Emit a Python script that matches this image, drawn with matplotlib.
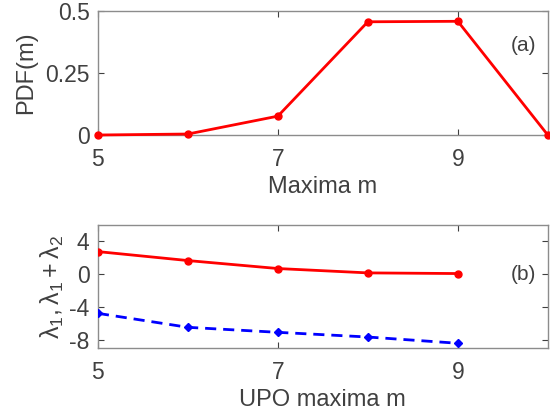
import matplotlib
matplotlib.use("Agg")
import matplotlib.pyplot as plt

plt.rcParams['font.family'] = ['Liberation Sans', 'DejaVu Sans']
plt.rcParams['mathtext.fontset'] = 'custom'
plt.rcParams['mathtext.rm'] = 'Liberation Sans'
plt.rcParams['mathtext.it'] = 'Liberation Sans'
plt.rcParams['axes.unicode_minus'] = False

# PDF of number of maxima
maxima_m = [5, 6, 7, 8, 9, 10]
pdf_m = [0.0, 0.004, 0.076, 0.456, 0.458, 0.0]

# Lyapunov exponents of the UPOs
upo_m = [5, 6, 7, 8, 9]
lam1 = [2.75, 1.66, 0.69, 0.16, 0.08]
lam12 = [-4.76, -6.46, -7.07, -7.64, -8.4]

txt = '#404040'
edge = '#8c8c8c'
fs = 16.5

fig = plt.figure(figsize=(5.5, 4.18), dpi=100)
ax1 = fig.add_axes([0.178, 0.677, 0.818, 0.297])
ax2 = fig.add_axes([0.178, 0.167, 0.818, 0.295])

ax1.plot(maxima_m, pdf_m, color='red', lw=2.0, marker='o', ms=5, clip_on=False, zorder=3)
ax1.set_xlim(5, 10)
ax1.set_ylim(0, 0.5)
ax1.set_xticks([5, 7, 9])
ax1.set_yticks([0, 0.25, 0.5])
ax1.set_yticklabels(['0', '0.25', '0.5'])
ax1.set_xlabel('Maxima m', fontsize=17, color=txt, labelpad=4)
ax1.set_ylabel('PDF(m)', fontsize=17, color=txt, labelpad=6)
ax1.text(0.945, 0.72, '(a)', transform=ax1.transAxes, fontsize=15, color=txt, ha='center', va='center')

ax2.plot(upo_m, lam1, color='red', lw=2.0, marker='o', ms=5, zorder=3)
ax2.plot(upo_m, lam12, color='blue', lw=2.0, ls=(0, (4, 2.5)), marker='D', ms=4.5, zorder=3)
ax2.set_xlim(5, 10)
ax2.set_ylim(-9, 6)
ax2.set_xticks([5, 7, 9])
ax2.set_yticks([-8, -4, 0, 4])
ax2.set_xlabel('UPO maxima m', fontsize=17, color=txt, labelpad=4)
ax2.set_ylabel(r'$\mathregular{λ_1, λ_1 + λ_2}$', fontsize=18, color=txt, labelpad=2)
ax2.text(0.945, 0.6, '(b)', transform=ax2.transAxes, fontsize=15, color=txt, ha='center', va='center')

for ax in (ax1, ax2):
    ax.tick_params(direction='in', top=True, right=True, labelsize=fs, colors=txt,
                   length=4, width=0.8)
    ax.tick_params(axis='x', pad=9)
    ax.tick_params(axis='y', pad=6)
    for s in ax.spines.values():
        s.set_color(edge)
        s.set_linewidth(1.0)

fig.savefig('out.png', dpi=100)
